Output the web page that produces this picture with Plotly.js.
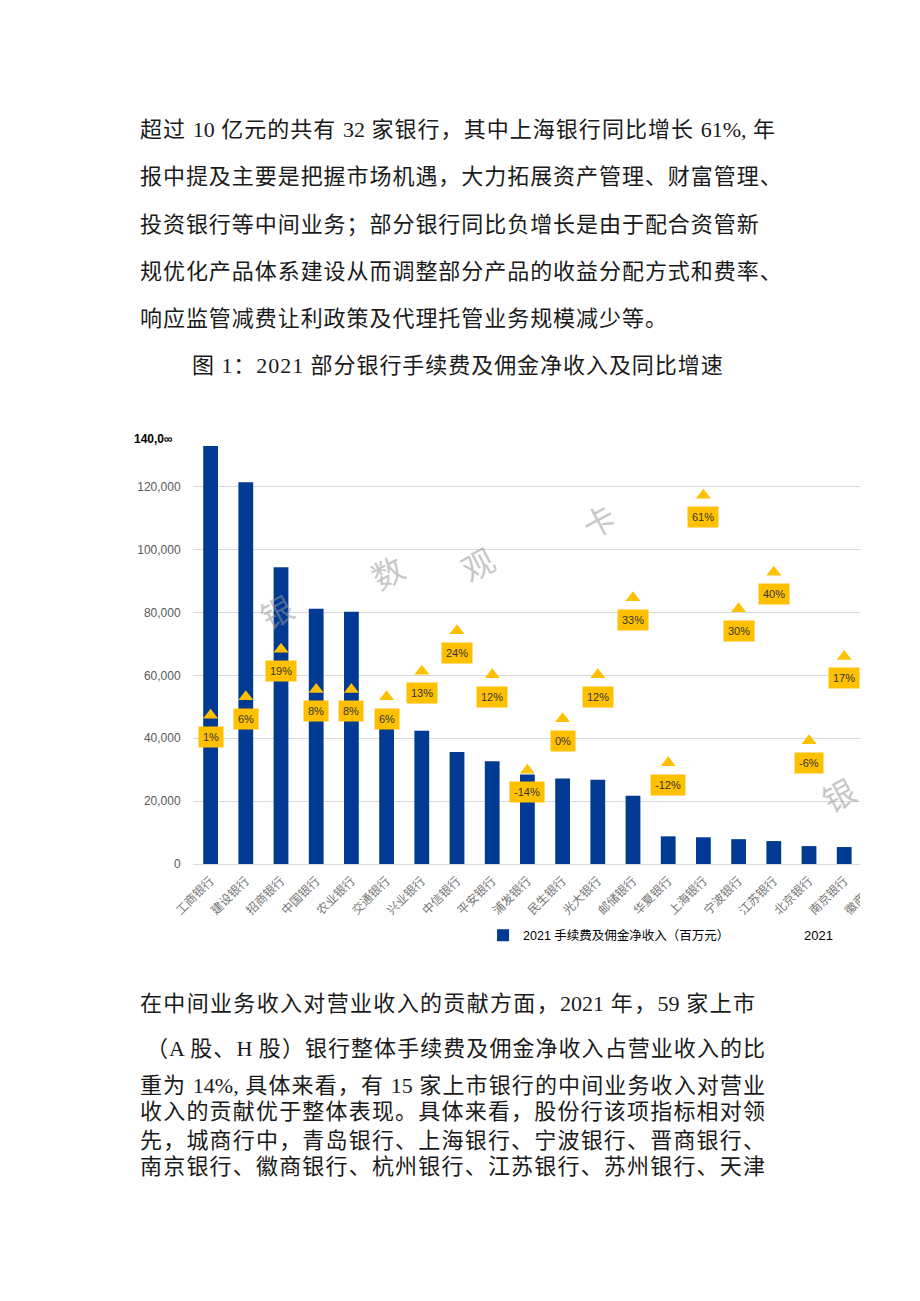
<!DOCTYPE html>
<html>
<head>
<meta charset="utf-8">
<script src="https://cdn.plot.ly/plotly-3.0.1.min.js"></script>
<style>
  html, body { margin: 0; padding: 0; background: #fff; }
  body { width: 920px; height: 1301px; position: relative; overflow: hidden; }
  .ln { position: absolute; left: 140px; font-family: "Liberation Serif", "Noto Sans CJK SC", serif; font-size: 22px; line-height: 30px; color: #1a1a1a; font-weight: normal; white-space: normal; }
  .j { text-align: justify; text-align-last: justify; }
  .ls { letter-spacing: 0.95px; white-space: nowrap; }
  #chartWrap { position: absolute; left: 130px; top: 415px; width: 730px; height: 545px; overflow: hidden; }
  #chart { width: 800px; height: 545px; }
</style>
</head>
<body>
<div class="ln j" style="top:115px;width:635px;">超过 10 亿元的共有 32 家银行，其中上海银行同比增长 61%, 年</div>
<div class="ln ls" style="top:162px;">报中提及主要是把握市场机遇，大力拓展资产管理、财富管理、</div>
<div class="ln ls" style="top:210px;">投资银行等中间业务；部分银行同比负增长是由于配合资管新</div>
<div class="ln ls" style="top:257px;">规优化产品体系建设从而调整部分产品的收益分配方式和费率、</div>
<div class="ln ls" style="top:304px;">响应监管减费让利政策及代理托管业务规模减少等。</div>
<div class="ln ls" style="top:351px;left:192px;">图 1：2021 部分银行手续费及佣金净收入及同比增速</div>

<div id="chartWrap"><div id="chart"></div></div>

<div class="ln j" style="top:989px;width:615px;">在中间业务收入对营业收入的贡献方面，2021 年，59 家上市</div>
<div class="ln j" style="top:1034px;width:619px;padding-left:6px;">（A 股、H 股）银行整体手续费及佣金净收入占营业收入的比</div>
<div class="ln j" style="top:1071px;width:625px;">重为 14%, 具体来看，有 15 家上市银行的中间业务收入对营业</div>
<div class="ln j" style="top:1097px;width:625px;">收入的贡献优于整体表现。具体来看，股份行该项指标相对领</div>
<div class="ln j" style="top:1126px;width:625px;">先，城商行中，青岛银行、上海银行、宁波银行、晋商银行、</div>
<div class="ln j" style="top:1152px;width:625px;">南京银行、徽商银行、杭州银行、江苏银行、苏州银行、天津</div>

<script>
// ---- data ----
const banks = ['工商银行','建设银行','招商银行','中国银行','农业银行','交通银行','兴业银行','中信银行','平安银行','浦发银行','民生银行','光大银行','邮储银行','华夏银行','上海银行','宁波银行','江苏银行','北京银行','南京银行','徽商银行'];
const feeIncome = [133000, 121500, 94400, 81200, 80300, 47000, 42400, 35600, 32700, 28500, 27200, 26800, 21700, 8800, 8500, 7900, 7300, 5700, 5400, null];
const yoyGrowth = [0.01, 0.06, 0.19, 0.08, 0.08, 0.06, 0.13, 0.24, 0.12, -0.14, 0.00, 0.12, 0.33, -0.12, 0.61, 0.30, 0.40, -0.06, 0.17, null];
const yTickVals = [0, 20000, 40000, 60000, 80000, 100000, 120000];
const yTickText = ['0', '20,000', '40,000', '60,000', '80,000', '100,000', '120,000'];
const barName = '2021 手续费及佣金净收入（百万元）';
const growthName = '2021';
const topLabel = '140,0∞';
const watermark = ['银', '数', '观', '卡', '银'];

const blue = '#003a92';
const gold = '#FFC000';

const traces = [
  {
    type: 'bar', x: banks, y: feeIncome, name: barName,
    marker: { color: blue }, width: 0.42, yaxis: 'y',
    hoverinfo: 'skip'
  },
  {
    type: 'scatter', mode: 'markers', x: banks, y: yoyGrowth, name: growthName,
    yaxis: 'y2', showlegend: false, cliponaxis: false,
    marker: { symbol: 'triangle-up', size: 13, color: gold },
    hoverinfo: 'skip'
  }
];

const annotations = [];
yoyGrowth.forEach((v, i) => {
  if (v === null) return;
  annotations.push({
    x: banks[i], y: v, xref: 'x', yref: 'y2', yshift: -22,
    text: Math.round(v * 100) + '%', showarrow: false,
    bgcolor: gold, borderpad: 4,
    font: { family: 'Liberation Sans, Arial, sans-serif', size: 11, color: '#333' }
  });
});
// watermark glyphs (paper coords)
const wmPos = [[0.078, 0.576], [0.237, 0.666], [0.404, 0.754], [0.575, 0.851], [0.955, 0.09]];
wmPos.forEach((p, i) => {
  annotations.push({
    x: p[0], y: p[1], xref: 'paper', yref: 'paper', showarrow: false,
    text: watermark[i], textangle: -28,
    font: { family: 'Noto Sans CJK SC', size: 32, color: 'rgba(150,150,150,0.55)' }
  });
});
annotations.push({
  x: -0.026, y: 0.966, xref: 'paper', yref: 'paper', xanchor: 'right', yanchor: 'middle',
  showarrow: false, text: '<b>' + topLabel + '</b>',
  font: { family: 'Liberation Sans, Arial, sans-serif', size: 12, color: '#000' }
});
annotations.push({
  x: 0.8645, y: -0.1625, xref: 'paper', yref: 'paper', xanchor: 'left', yanchor: 'middle',
  showarrow: false, text: growthName,
  font: { family: 'Liberation Sans, Arial, sans-serif', size: 13, color: '#000' }
});

const layout = {
  width: 800, height: 545,
  margin: { l: 63, r: 33, t: 9, b: 93 },
  paper_bgcolor: '#fff', plot_bgcolor: '#fff',
  showlegend: true,
  legend: {
    orientation: 'h', x: 0.412, y: -0.1625, xanchor: 'left', yanchor: 'middle',
    font: { family: 'Liberation Sans, Noto Sans CJK SC, sans-serif', size: 12.5, color: '#000' },
    bgcolor: 'rgba(0,0,0,0)', itemwidth: 30
  },
  xaxis: {
    type: 'category', categoryorder: 'array', categoryarray: banks,
    range: [-0.5, 19.5], showgrid: false, showline: false, zeroline: false,
    tickangle: -45, ticks: 'outside', ticklen: 4, tickcolor: 'rgba(0,0,0,0)',
    tickfont: { family: 'Noto Sans CJK SC', size: 12, color: '#767676' },
    automargin: false, fixedrange: true
  },
  yaxis: {
    range: [0, 140000], tickvals: yTickVals, ticktext: yTickText,
    showgrid: true, gridcolor: '#d9d9d9', gridwidth: 1,
    zeroline: true, zerolinecolor: '#d9d9d9', zerolinewidth: 1, showline: false,
    ticks: 'outside', ticklen: 9, tickcolor: 'rgba(0,0,0,0)',
    tickfont: { family: 'Liberation Sans, Arial, sans-serif', size: 12, color: '#595959' },
    automargin: false, fixedrange: true
  },
  yaxis2: {
    overlaying: 'y', side: 'right', range: [-0.396, 0.804], visible: false,
    showgrid: false, zeroline: false, fixedrange: true
  },
  annotations: annotations,
  bargap: 0.57
};

Plotly.newPlot('chart', traces, layout, { displayModeBar: false, staticPlot: true });
</script>
</body>
</html>
